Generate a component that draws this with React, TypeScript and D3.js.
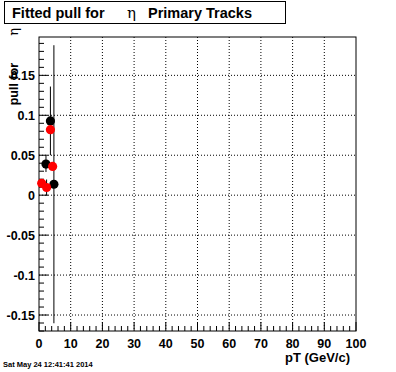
import * as d3 from 'd3';

// black graph: pT, pull, error
const blackPt = [2.2, 3.6, 4.7];
const blackVal = [0.039, 0.093, 0.0137];
const blackErr = [0.01, 0.043, 0.174];

// red graph
const redPt = [0.85, 2.4, 3.6, 4.3];
const redVal = [0.0148, 0.0096, 0.082, 0.036];
const redErr = [0.004, 0.01, 0.004, 0.004];

const xMajor = [0, 10, 20, 30, 40, 50, 60, 70, 80, 90, 100];
const yMajor = [-0.15, -0.1, -0.05, 0, 0.05, 0.1, 0.15];

const W = 396;
const H = 372;
const L = 39, R = 356, T = 37, B = 331;
const FONT = '"Liberation Sans", Arial, Helvetica, sans-serif';

export default function App() {
  const x = d3.scaleLinear().domain([0, 100]).range([L, R]);
  const y = d3.scaleLinear().domain([-0.17, 0.198]).range([B, T]);

  const xMinor = d3.range(0, 101, 2);
  const yMinor = d3.range(-0.17, 0.1981, 0.01).map(v => Math.round(v * 100) / 100);

  const fmtY = (v: number) => (v === 0 ? '0' : String(v));

  const points = (pts: number[], vals: number[], errs: number[], color: string) =>
    pts.map((p, i) => (
      <g key={color + i}>
        <line x1={x(p)} x2={x(p)} y1={y(vals[i] + errs[i])} y2={y(vals[i] - errs[i])} stroke="#000" strokeWidth={1} />
        <circle cx={x(p)} cy={y(vals[i])} r={4.6} fill={color} />
      </g>
    ));

  return (
    <svg width={W} height={H} style={{ position: 'absolute', left: 0, top: 0, background: '#fff' }} fontFamily={FONT}>
      <rect x={0} y={0} width={W} height={H} fill="#fff" />

      {/* grid */}
      {xMajor.slice(1, -1).map(v => (
        <line key={'gx' + v} x1={x(v)} x2={x(v)} y1={T} y2={B} stroke="#000" strokeDasharray="1 2" />
      ))}
      {yMajor.map(v => (
        <line key={'gy' + v} x1={L} x2={R} y1={y(v)} y2={y(v)} stroke="#000" strokeDasharray="1 2" />
      ))}

      {/* ticks */}
      {xMinor.map(v => (
        <line key={'tx' + v} x1={x(v)} x2={x(v)} y1={B} y2={B - (v % 10 === 0 ? 9 : 5)} stroke="#000" />
      ))}
      {yMinor.map(v => (
        <line key={'ty' + v} x1={L} x2={L + (Math.abs(Math.round(v * 100)) % 5 === 0 ? 9 : 5)} y1={y(v)} y2={y(v)} stroke="#000" />
      ))}

      {/* frame */}
      <rect x={L} y={T} width={R - L} height={B - T} fill="none" stroke="#000" />

      {/* tick labels */}
      {xMajor.map(v => (
        <text key={'lx' + v} x={x(v)} y={348} textAnchor="middle" fontSize={12.5} fontWeight="bold">{v}</text>
      ))}
      {yMajor.map(v => (
        <text key={'ly' + v} x={35} y={y(v) + 4.5} textAnchor="end" fontSize={12.5} fontWeight="bold">{fmtY(v)}</text>
      ))}

      {/* data */}
      {points(blackPt, blackVal, blackErr, '#000')}
      {points(redPt, redVal, redErr, '#ff0000')}

      {/* axis titles */}
      <text x={350} y={362} textAnchor="end" fontSize={13} fontWeight="bold">pT (GeV/c)</text>
      <text transform="translate(18,63) rotate(-90)" textAnchor="end" fontSize={12.5} fontWeight="bold">pull for</text>
      <text transform="translate(18,28) rotate(-90)" textAnchor="end" fontSize={13} fontFamily='"DejaVu Serif", serif'>η</text>

      {/* title */}
      <rect x={4.5} y={1.5} width={281} height={22} fill="#fff" stroke="#000" />
      <text x={12} y={18} fontSize={14.5} fontWeight="bold">Fitted pull for</text>
      <text x={127} y={18} fontSize={15} fontFamily='"DejaVu Serif", serif'>η</text>
      <text x={148} y={18} fontSize={14.5} fontWeight="bold">Primary Tracks</text>

      {/* date stamp */}
      <text x={3} y={367} fontSize={7.5} fontWeight="bold">Sat May 24 12:41:41 2014</text>
    </svg>
  );
}
